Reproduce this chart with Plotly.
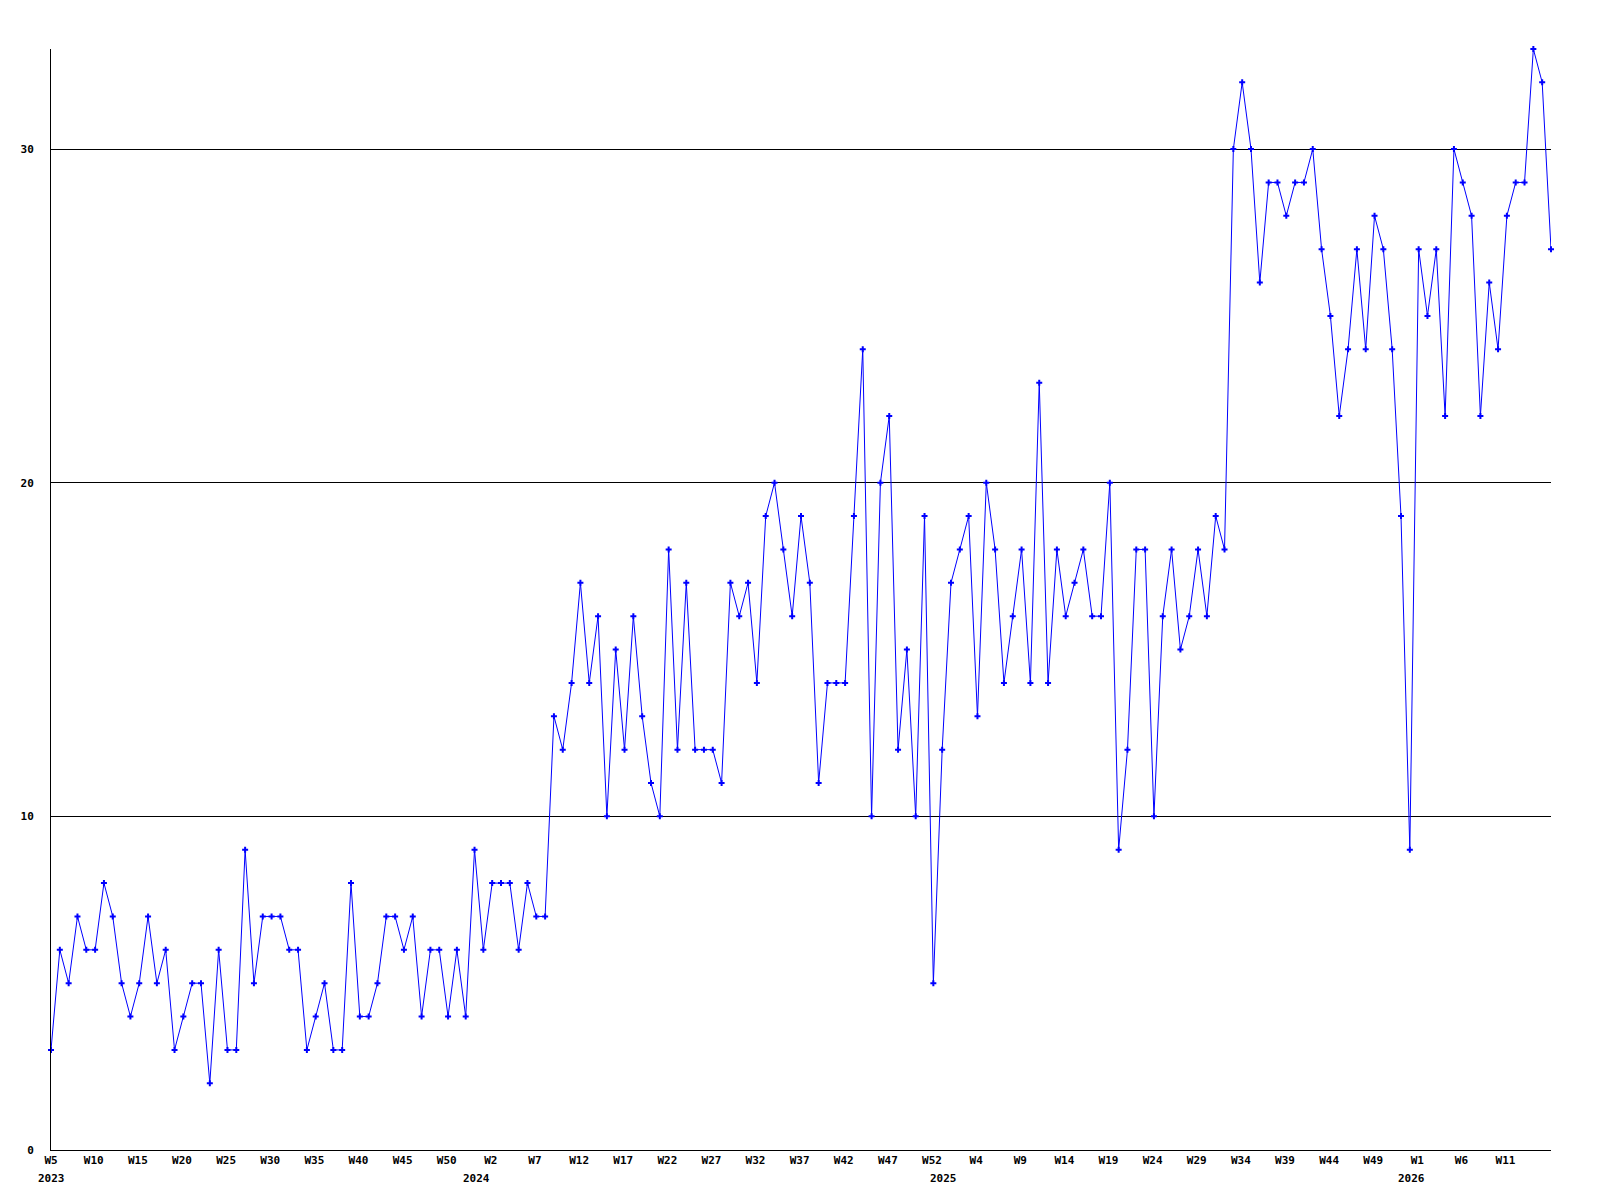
import plotly.graph_objects as go

# ---- data ----
years = [2023, 2024, 2025, 2026]
first_week = [5, 1, 1, 1]
last_week = [53, 53, 53, 16]

counts = [
    # 2023 W5 .. W53
    3, 6, 5, 7, 6, 6, 8, 7, 5, 4, 5, 7, 5, 6, 3, 4, 5, 5, 2, 6,
    3, 3, 9, 5, 7, 7, 7, 6, 6, 3, 4, 5, 3, 3, 8, 4, 4, 5, 7, 7,
    6, 7, 4, 6, 6, 4, 6, 4, 9,
    # 2024 W1 .. W53
    6, 8, 8, 8, 6, 8, 7, 7, 13, 12, 14, 17, 14, 16, 10, 15, 12, 16, 13, 11,
    10, 18, 12, 17, 12, 12, 12, 11, 17, 16, 17, 14, 19, 20, 18, 16, 19, 17, 11, 14,
    14, 14, 19, 24, 10, 20, 22, 12, 15, 10, 19, 5, 12,
    # 2025 W1 .. W53
    17, 18, 19, 13, 20, 18, 14, 16, 18, 14, 23, 14, 18, 16, 17, 18, 16, 16, 20, 9,
    12, 18, 18, 10, 16, 18, 15, 16, 18, 16, 19, 18, 30, 32, 30, 26, 29, 29, 28, 29,
    29, 30, 27, 25, 22, 24, 27, 24, 28, 27, 24, 19, 9,
    # 2026 W1 .. W16
    27, 25, 27, 22, 30, 29, 28, 22, 26, 24, 28, 29, 29, 33, 32, 27,
]

tick_labels = ["W5", "W10", "W15", "W20", "W25", "W30", "W35", "W40", "W45", "W50",
               "W2", "W7", "W12", "W17", "W22", "W27", "W32", "W37", "W42", "W47",
               "W52", "W4", "W9", "W14", "W19", "W24", "W29", "W34", "W39", "W44",
               "W49", "W1", "W6", "W11"]
y_ticks = [0, 10, 20, 30]

# ---- build categories ----
weeks = []
for yr, w0, w1 in zip(years, first_week, last_week):
    for w in range(w0, w1 + 1):
        weeks.append((yr, w))
N = len(weeks)
xs = list(range(N))
hover = [f"{yr} W{w}" for yr, w in weeks]

FONT = "DejaVu Sans Mono"

fig = go.Figure()
fig.add_trace(go.Scatter(
    x=xs, y=counts, mode="lines+markers",
    line=dict(color="#0000ff", width=1),
    marker=dict(symbol="cross", size=5, color="#0000ff", line=dict(width=0)),
    text=hover, hoverinfo="text+y", cliponaxis=False,
))

tickvals = [max(i - 0.15, 0) for i in range(0, N, 5)][:len(tick_labels)]

annotations = []
for yr in years:
    idx = next(i for i, (y, w) in enumerate(weeks) if y == yr)
    xpos = idx if idx == 0 else idx - 0.8
    annotations.append(dict(
        x=xpos, y=0, xref="x", yref="paper", text=f"<b>{yr}</b>",
        showarrow=False, xanchor="center", yanchor="top", yshift=-20,
        font=dict(family=FONT, size=11, color="black"),
    ))

fig.update_layout(
    width=1600, height=1200,
    margin=dict(l=43, r=57, t=41, b=58),
    paper_bgcolor="white", plot_bgcolor="white",
    showlegend=False,
    font=dict(family=FONT, size=11, color="black"),
    annotations=annotations,
    xaxis=dict(
        range=[0, N - 1], showgrid=False, zeroline=False,
        showline=True, linecolor="black", linewidth=1,
        tickmode="array", tickvals=tickvals,
        ticktext=[f"<b>{t}</b>" for t in tick_labels],
        ticks="", tickangle=0,
        tickfont=dict(family=FONT, size=11, color="black"),
    ),
    yaxis=dict(
        range=[0, 33], showgrid=True, gridcolor="black", gridwidth=1,
        zeroline=False, showline=True, linecolor="black", linewidth=1,
        tickmode="array", tickvals=y_ticks,
        ticktext=[f"<b>{v}</b>" for v in y_ticks],
        ticks="", ticklabelstandoff=14,
        tickfont=dict(family=FONT, size=11, color="black"),
    ),
)

fig.write_html("out.html")
